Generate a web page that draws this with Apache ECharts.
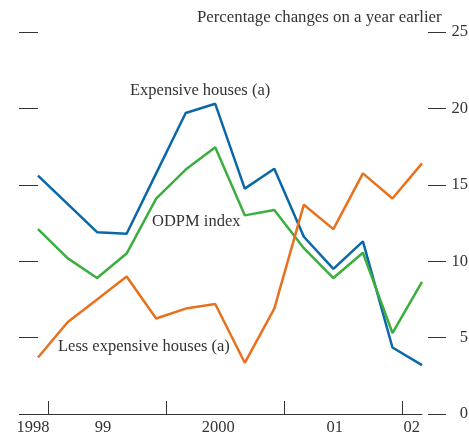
<!DOCTYPE html>
<html>
<head>
<meta charset="utf-8">
<script src="https://cdn.jsdelivr.net/npm/echarts@6/dist/echarts.min.js"></script>
<style>
  html, body { margin: 0; padding: 0; background: #fff; }
  #chart { width: 469px; height: 432px; }
</style>
</head>
<body>
<div id="chart"></div>
<script>
// quarterly points, mid 1998 to 2002
var expensive = [15.6, 13.75, 11.9, 11.8, 15.75, 19.7, 20.3, 14.75, 16.05, 11.6, 9.5, 11.3, 4.35, 3.2]
var odpm = [12.1, 10.2, 8.9, 10.5, 14.1, 16.0, 17.45, 13.0, 13.35, 10.85, 8.9, 10.55, 5.3, 8.65]
var lessExpensive = [3.7, 6.0, 7.5, 9.0, 6.25, 6.9, 7.2, 3.35, 6.9, 13.7, 12.1, 15.75, 14.1, 16.4]

// year boundaries and year labels (in quarter units from first point)
var yearTicks = [1 / 3, 13 / 3, 25 / 3, 37 / 3]
var yearLabels = ['1998', '99', '2000', '01', '02']
var yearLabelPos = [0, 2.2, 6.1, 10.05, 12.65]

var font = 'Liberation Serif'
var fs = 16.5
var textColor = '#333'

function pairs(arr) {
  return arr.map(function (v, i) { return [i, v] })
}

var myChart = echarts.init(document.getElementById('chart'))

myChart.setOption({
  animation: false,
  grid: { left: 38, right: 47, top: 32, bottom: 18, containLabel: false, outerBoundsMode: 'none' },
  xAxis: {
    type: 'value',
    min: 0,
    max: 13,
    axisLine: { show: true, lineStyle: { color: textColor, width: 1 } },
    axisTick: {
      show: true,
      inside: true,
      length: 13,
      customValues: yearTicks,
      lineStyle: { color: textColor, width: 1 }
    },
    axisLabel: {
      customValues: yearLabelPos,
      margin: 5,
      fontFamily: font,
      fontSize: fs,
      color: textColor,
      formatter: function (v) {
        var best = 0
        for (var i = 0; i < yearLabelPos.length; i++) {
          if (Math.abs(yearLabelPos[i] - v) < Math.abs(yearLabelPos[best] - v)) best = i
        }
        if (best === 0) return '{a|' + yearLabels[0] + '}'
        return yearLabels[best]
      },
      rich: { a: { fontFamily: font, fontSize: fs, color: textColor, padding: [0, 10, 0, 0] } }
    },
    splitLine: { show: false }
  },
  yAxis: [
    {
      type: 'value',
      position: 'left',
      min: 0,
      max: 25,
      interval: 5,
      offset: 7,
      axisLine: { show: false },
      axisTick: { show: true, length: 19, lineStyle: { color: textColor, width: 1 } },
      axisLabel: { show: false },
      splitLine: { show: false }
    },
    {
      type: 'value',
      position: 'right',
      min: 0,
      max: 25,
      interval: 5,
      offset: 6,
      axisLine: { show: false },
      axisTick: { show: true, length: 18, lineStyle: { color: textColor, width: 1 } },
      axisLabel: {
        margin: 40,
        align: 'right',
        fontFamily: font,
        fontSize: fs,
        color: textColor
      },
      splitLine: { show: false }
    }
  ],
  graphic: [
    { type: 'text', left: 197, top: 9, style: { text: 'Percentage changes on a year earlier', font: '16.8px "' + font + '"', fill: textColor } },
    { type: 'text', left: 130, top: 82, style: { text: 'Expensive houses (a)', font: fs + 'px "' + font + '"', fill: textColor } },
    { type: 'text', left: 152, top: 213, style: { text: 'ODPM index', font: fs + 'px "' + font + '"', fill: textColor } },
    { type: 'text', left: 58, top: 338, style: { text: 'Less expensive houses (a)', font: fs + 'px "' + font + '"', fill: textColor } }
  ],
  series: [
    {
      name: 'Expensive houses (a)',
      type: 'line',
      data: pairs(expensive),
      symbol: 'none',
      lineStyle: { color: '#0a68a8', width: 2.5 }
    },
    {
      name: 'ODPM index',
      type: 'line',
      data: pairs(odpm),
      symbol: 'none',
      lineStyle: { color: '#3aae3e', width: 2.5 }
    },
    {
      name: 'Less expensive houses (a)',
      type: 'line',
      data: pairs(lessExpensive),
      symbol: 'none',
      lineStyle: { color: '#e8711e', width: 2.5 }
    }
  ]
})
</script>
</body>
</html>
